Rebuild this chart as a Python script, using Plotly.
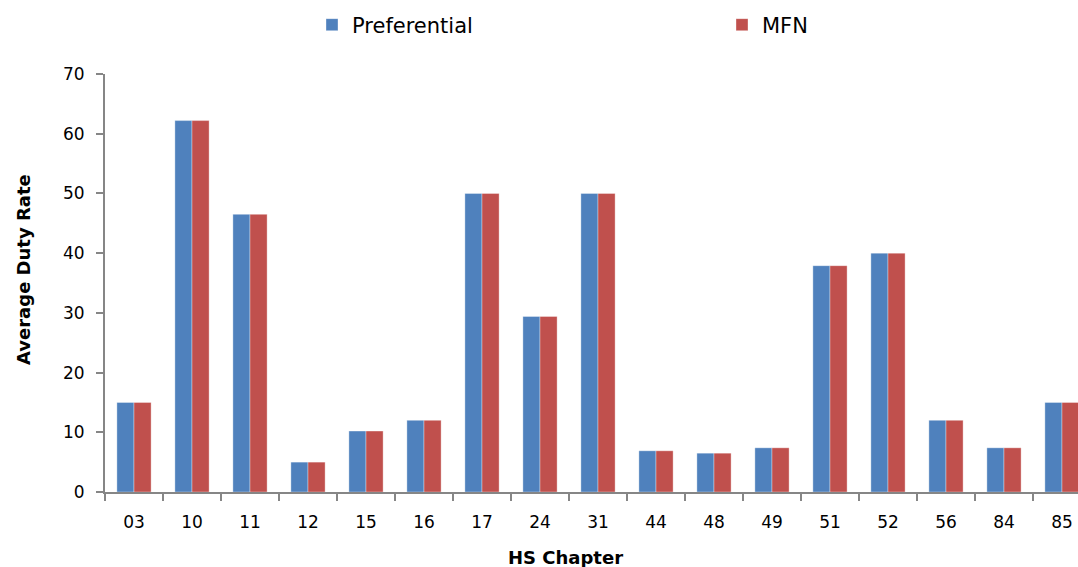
import plotly.graph_objects as go

chapters = ["03", "10", "11", "12", "15", "16", "17", "24", "31", "44",
            "48", "49", "51", "52", "56", "84", "85"]
preferential = [15, 62.2, 46.5, 5, 10.2, 12, 50, 29.4, 50, 6.9,
                6.5, 7.4, 37.9, 40, 12, 7.4, 15]
mfn = [15, 62.2, 46.5, 5, 10.2, 12, 50, 29.4, 50, 6.9,
       6.5, 7.4, 37.9, 40, 12, 7.4, 15]
y_ticks = [0, 10, 20, 30, 40, 50, 60, 70]

W, H = 1078, 567
FONT = "DejaVu Sans"
AXIS = "#868686"

fig = go.Figure()
fig.add_trace(go.Bar(name="Preferential", x=chapters, y=preferential,
                     marker=dict(color="#4F81BD",
                                 line=dict(color="rgba(255,255,255,0.35)", width=1))))
fig.add_trace(go.Bar(name="MFN", x=chapters, y=mfn,
                     marker=dict(color="#C0504D",
                                 line=dict(color="rgba(255,255,255,0.35)", width=1))))

fig.update_layout(
    width=W, height=H,
    margin=dict(l=105, r=0, t=74, b=75, autoexpand=False),
    paper_bgcolor="white", plot_bgcolor="white",
    barmode="group", bargap=0.41, bargroupgap=0,
    font=dict(family=FONT, size=17, color="black"),
    showlegend=True,
    legend=dict(orientation="h", xref="container", yref="container",
                x=312 / W, y=1 - 25 / H, xanchor="left", yanchor="middle",
                font=dict(family=FONT, size=21, color="black"),
                entrywidth=365, entrywidthmode="pixels",
                bgcolor="rgba(0,0,0,0)", traceorder="normal"),
    xaxis=dict(type="category", range=[-0.5, 16.276],
               showline=True, linecolor=AXIS, linewidth=2,
               ticks="outside", tickson="boundaries", ticklen=7,
               tickcolor=AXIS, tickwidth=1.5,
               showgrid=False, zeroline=False,
               tickfont=dict(family=FONT, size=17, color="black"),
               ticklabelstandoff=14),
    yaxis=dict(range=[0, 70], tickvals=y_ticks,
               showline=True, linecolor=AXIS, linewidth=2,
               ticks="outside", ticklen=7, tickcolor=AXIS, tickwidth=1.5,
               showgrid=False, zeroline=False,
               tickfont=dict(family=FONT, size=17, color="black"),
               ticklabelstandoff=8),
)

fig.add_annotation(text="<b>HS Chapter</b>", xref="paper", yref="paper",
                   x=(565 - 105) / (W - 105), y=-(557 - 492) / (492 - 74),
                   showarrow=False, xanchor="center", yanchor="middle",
                   font=dict(family=FONT, size=18, color="black"))
fig.add_annotation(text="<b>Average Duty Rate</b>", xref="paper", yref="paper",
                   x=-(105 - 23) / (W - 105), y=(492 - 270) / (492 - 74),
                   showarrow=False, xanchor="center", yanchor="middle",
                   textangle=-90,
                   font=dict(family=FONT, size=18, color="black"))

fig.write_html(
    "out.html",
    config={"displayModeBar": False},
    post_script="document.body.style.margin='0';document.body.style.overflow='hidden';",
)
